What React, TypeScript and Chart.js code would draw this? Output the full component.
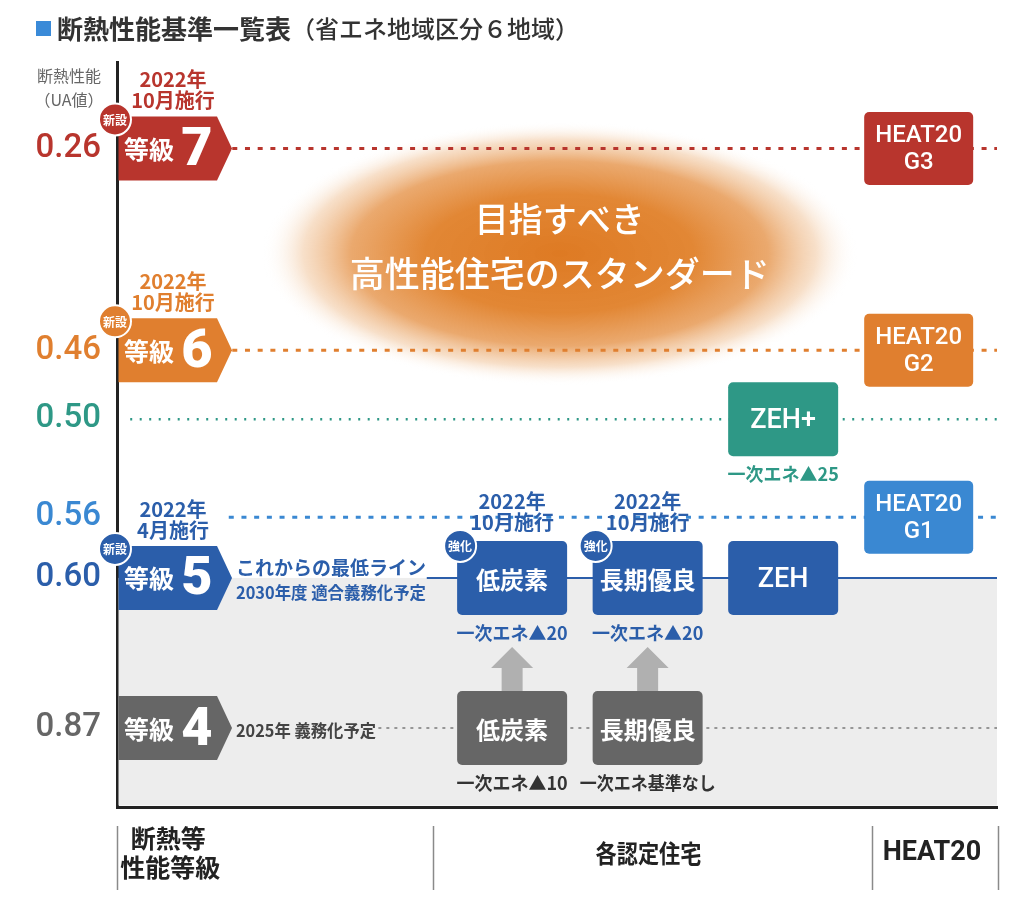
import React, { useEffect, useRef } from 'react';
import { Chart, registerables } from 'chart.js';

Chart.register(...registerables);

// ---------------- data ----------------
const uaLevels = [0.26, 0.46, 0.5, 0.56, 0.6, 0.87];
const uaColors = ['#b8352d', '#e07f2f', '#2e9886', '#3a88d2', '#2b5eaa', '#666666'];

const gradeNames = ['7', '6', '5', '4'];
const gradeUA = [0.26, 0.46, 0.6, 0.87];
const gradeBadge = ['新設', '新設', '新設', ''];
const gradeDateYear = ['2022年', '2022年', '2022年', ''];
const gradeDateMonth = ['10月施行', '10月施行', '4月施行', ''];
const gradeNote1 = ['', '', 'これからの最低ライン', '2025年 義務化予定'];
const gradeNote2 = ['', '', '2030年度 適合義務化予定', ''];

const certNames = ['低炭素', '長期優良', 'ZEH', 'ZEH+', '低炭素', '長期優良'];
const certColumn = [0, 1, 2, 2, 0, 1];
const certUA = [0.6, 0.6, 0.6, 0.5, 0.87, 0.87];
const certBadge = ['強化', '強化', '', '', '', ''];
const certDateYear = ['2022年', '2022年', '', '', '', ''];
const certDateMonth = ['10月施行', '10月施行', '', '', '', ''];
const certNotes = ['一次エネ▲20', '一次エネ▲20', '', '一次エネ▲25', '一次エネ▲10', '一次エネ基準なし'];
const certUpgrades = [[4, 0], [5, 1]]; // [from, to]

const heatNames = ['G3', 'G2', 'G1'];
const heatUA = [0.26, 0.46, 0.56];

const groupLabels = [['断熱等', '性能等級'], ['各認定住宅'], ['HEAT20']];
const titleMain = '断熱性能基準一覧表';
const titleSub = '（省エネ地域区分６地域）';
const yTitle = ['断熱性能', '（UA値）'];
const glowText = ['目指すべき', '高性能住宅のスタンダード'];

// ---------------- layout (schematic, not to scale) ----------------
const levelRows = [11.6, 38.7, 47.95, 61.1, 69.25, 89.4];
const levelLineStart = [13.1, 13.1, 1.5, 12.7, 35.2, 29.7];
const levelLineDash = [[5, 7.7], [5, 7.7], [2, 7.5], [5, 7.7], [], [3, 5]];
const levelLineWidth = [3, 3, 2.5, 3, 2, 1.5];
const levelLineColor = ['#b8352d', '#e07f2f', '#2e9886', '#3a88d2', '#2b5eaa', '#7a7a7a'];
const certColX = [44.9, 60.3, 75.7];
const heatColX = 91.1;
const groupDividers = [0, 35.9, 85.8, 100.1];
const groupLabelX = [5.7, 60.4, 92.6];
const glowCenter = { x: 50.3, y: 25.7 };

const JP = '"Noto Sans CJK JP", "Noto Sans", sans-serif';
const NUM = 'Roboto, "Noto Sans", sans-serif';

const rowOf = (ua: number) => levelRows[uaLevels.indexOf(ua)];
const colorOf = (ua: number) => uaColors[uaLevels.indexOf(ua)];

function rr(ctx: any, x: number, y: number, w: number, h: number, r: number) {
  ctx.beginPath();
  ctx.moveTo(x + r, y);
  ctx.arcTo(x + w, y, x + w, y + h, r);
  ctx.arcTo(x + w, y + h, x, y + h, r);
  ctx.arcTo(x, y + h, x, y, r);
  ctx.arcTo(x, y, x + w, y, r);
  ctx.closePath();
}

function txt(ctx: any, s: string, x: number, y: number, font: string, color: string, align = 'center', maxW?: number) {
  ctx.save();
  ctx.font = font;
  ctx.fillStyle = color;
  ctx.textAlign = align;
  ctx.textBaseline = 'middle';
  if (maxW) ctx.fillText(s, x, y, maxW);
  else ctx.fillText(s, x, y);
  ctx.restore();
}

function badge(ctx: any, cx: number, cy: number, color: string, label: string) {
  ctx.save();
  ctx.beginPath();
  ctx.arc(cx, cy, 16, 0, Math.PI * 2);
  ctx.fillStyle = color;
  ctx.fill();
  ctx.lineWidth = 2;
  ctx.strokeStyle = '#ffffff';
  ctx.stroke();
  ctx.restore();
  txt(ctx, label, cx, cy + 1, `bold 12px ${JP}`, '#ffffff', 'center', 26);
}

const backgroundPlugin = {
  id: 'bg',
  beforeDatasetsDraw(chart: any) {
    const { ctx, chartArea, scales } = chart;
    const y60 = scales.y.getPixelForValue(rowOf(0.6));
    ctx.save();
    ctx.fillStyle = '#ededed';
    ctx.fillRect(chartArea.left + 1.5, y60, chartArea.right - chartArea.left - 1.5, chartArea.bottom - 1.5 - y60);
    // glow
    const cx = scales.x.getPixelForValue(glowCenter.x);
    const cy = scales.y.getPixelForValue(glowCenter.y);
    const rx = 298, ry = 132;
    ctx.translate(cx, cy);
    ctx.scale(rx / ry, 1);
    const g = ctx.createRadialGradient(0, 0, 0, 0, 0, ry);
    g.addColorStop(0, 'rgba(222,122,35,1)');
    g.addColorStop(0.45, 'rgba(225,131,46,0.97)');
    g.addColorStop(0.7, 'rgba(230,150,78,0.82)');
    g.addColorStop(0.86, 'rgba(238,185,135,0.45)');
    g.addColorStop(1, 'rgba(255,255,255,0)');
    ctx.fillStyle = g;
    ctx.beginPath();
    ctx.arc(0, 0, ry, 0, Math.PI * 2);
    ctx.fill();
    ctx.restore();
    txt(ctx, glowText[0], cx, cy - 34, `500 34px ${JP}`, '#ffffff');
    txt(ctx, glowText[1], cx, cy + 20, `500 35px ${JP}`, '#ffffff');
  },
};

const overlayPlugin = {
  id: 'overlay',
  afterDatasetsDraw(chart: any) {
    const { ctx, chartArea, scales } = chart;
    const xs = scales.x, ys = scales.y;
    const xL = chartArea.left;

    // grade pentagons
    gradeNames.forEach((g, i) => {
      const cy = ys.getPixelForValue(rowOf(gradeUA[i]));
      const col = colorOf(gradeUA[i]);
      const top = cy - 32, bot = cy + 32;
      ctx.save();
      ctx.beginPath();
      ctx.moveTo(xL + 1.5, top);
      ctx.lineTo(xL + 100, top);
      ctx.lineTo(xL + 115, cy);
      ctx.lineTo(xL + 100, bot);
      ctx.lineTo(xL + 1.5, bot);
      ctx.closePath();
      ctx.fillStyle = col;
      ctx.fill();
      ctx.restore();
      txt(ctx, '等級', xL + 7, cy + 1, `bold 25px ${JP}`, '#ffffff', 'left');
      txt(ctx, g, xL + 80, cy + 3, `900 54px ${NUM}`, '#ffffff');
      if (gradeBadge[i]) badge(ctx, xL - 2, top + 3, col, gradeBadge[i]);
      if (gradeDateYear[i]) {
        txt(ctx, gradeDateYear[i], xL + 56, top - 37, `bold 20px ${JP}`, col);
        txt(ctx, gradeDateMonth[i], xL + 56, top - 16, `bold 20px ${JP}`, col);
      }
      const noteCol = gradeUA[i] === 0.87 ? '#444444' : col;
      if (gradeNote1[i] && gradeNote2[i]) {
        txt(ctx, gradeNote1[i], xL + 119, cy - 10, `bold 19px ${JP}`, noteCol, 'left', 190);
        txt(ctx, gradeNote2[i], xL + 119, cy + 15, `bold 17px ${JP}`, noteCol, 'left', 190);
      } else if (gradeNote1[i]) {
        txt(ctx, gradeNote1[i], xL + 119, cy + 3, `bold 17px ${JP}`, noteCol, 'left', 140);
      }
    });

    // upgrade arrows
    certUpgrades.forEach(([from, to]) => {
      const cx = xs.getPixelForValue(certColX[certColumn[from]]);
      const yFrom = ys.getPixelForValue(rowOf(certUA[from])) - 37;
      const yTo = ys.getPixelForValue(rowOf(certUA[to])) + 69;
      ctx.save();
      ctx.fillStyle = '#b0b0b0';
      ctx.beginPath();
      ctx.moveTo(cx, yTo);
      ctx.lineTo(cx + 21, yTo + 21);
      ctx.lineTo(cx + 10.5, yTo + 21);
      ctx.lineTo(cx + 10.5, yFrom);
      ctx.lineTo(cx - 10.5, yFrom);
      ctx.lineTo(cx - 10.5, yTo + 21);
      ctx.lineTo(cx - 21, yTo + 21);
      ctx.closePath();
      ctx.fill();
      ctx.restore();
    });

    // certified boxes
    certNames.forEach((name, i) => {
      const cx = xs.getPixelForValue(certColX[certColumn[i]]);
      const cy = ys.getPixelForValue(rowOf(certUA[i]));
      const col = colorOf(certUA[i]);
      const w = 110, h = 74;
      const top = cy - h / 2, left = cx - w / 2;
      ctx.save();
      rr(ctx, left, top, w, h, 5);
      ctx.fillStyle = col;
      ctx.fill();
      ctx.restore();
      const isLatin = /^[A-Z+]+$/.test(name);
      txt(ctx, name, cx, cy + 2, isLatin ? `500 27px ${NUM}` : `bold 24px ${JP}`, '#ffffff');
      if (certBadge[i]) badge(ctx, left + 3, top + 5, col, certBadge[i]);
      if (certDateYear[i]) {
        txt(ctx, certDateYear[i], cx, top - 40, `bold 20px ${JP}`, col);
        txt(ctx, certDateMonth[i], cx, top - 19, `bold 20px ${JP}`, col);
      }
      if (certNotes[i]) {
        const nc = certUA[i] === 0.87 ? '#333333' : col;
        txt(ctx, certNotes[i], cx, top + h + 18, `bold 18px ${JP}`, nc, 'center', 136);
      }
    });

    // HEAT20 boxes
    heatNames.forEach((name, i) => {
      const cx = xs.getPixelForValue(heatColX);
      const cy = ys.getPixelForValue(rowOf(heatUA[i]));
      const col = colorOf(heatUA[i]);
      const w = 109, h = 73;
      ctx.save();
      rr(ctx, cx - w / 2, cy - h / 2, w, h, 5);
      ctx.fillStyle = col;
      ctx.fill();
      ctx.restore();
      txt(ctx, 'HEAT20', cx, cy - 12, `500 24px ${NUM}`, '#ffffff');
      txt(ctx, name, cx, cy + 15, `500 24px ${NUM}`, '#ffffff');
    });
  },
  afterDraw(chart: any) {
    const { ctx, chartArea, scales } = chart;
    const xs = scales.x;
    // title
    ctx.save();
    ctx.fillStyle = '#3a8ad8';
    ctx.fillRect(36, 21, 15, 15);
    ctx.restore();
    ctx.save();
    ctx.font = `bold 26px ${JP}`;
    const wMain = ctx.measureText(titleMain).width;
    ctx.restore();
    txt(ctx, titleMain, 57, 29, `bold 26px ${JP}`, '#333333', 'left');
    txt(ctx, titleSub, 57 + wMain, 29, `500 24px ${JP}`, '#333333', 'left', 292);
    // y axis title
    txt(ctx, yTitle[0], 69, 76, `16px ${JP}`, '#666666');
    txt(ctx, yTitle[1], 69, 100, `16px ${JP}`, '#666666');
    // group dividers & labels
    const yTop = chartArea.bottom + 19, yBot = chartArea.bottom + 83;
    ctx.save();
    ctx.strokeStyle = '#8a8a8a';
    ctx.lineWidth = 1.5;
    groupDividers.forEach((d) => {
      const x = Math.round(xs.getPixelForValue(d)) + 0.5;
      ctx.beginPath();
      ctx.moveTo(x, yTop);
      ctx.lineTo(x, yBot);
      ctx.stroke();
    });
    ctx.restore();
    groupLabels.forEach((lines, i) => {
      const x = xs.getPixelForValue(groupLabelX[i]);
      if (lines.length === 2) {
        txt(ctx, lines[0], x + 1, chartArea.bottom + 31, `bold 25px ${JP}`, '#222222');
        txt(ctx, lines[1], x + 3, chartArea.bottom + 60, `bold 25px ${JP}`, '#222222');
      } else {
        const latin = /^[A-Z0-9]+$/.test(lines[0]);
        txt(ctx, lines[0], x, chartArea.bottom + 46, latin ? `bold 27px ${NUM}` : `bold 25px ${JP}`, '#222222', 'center', 106);
      }
    });
  },
};

const datasets = uaLevels.map((ua, i) => ({
  label: ua.toFixed(2),
  data: [
    { x: levelLineStart[i], y: levelRows[i] },
    { x: 100, y: levelRows[i] },
  ],
  borderColor: levelLineColor[i],
  borderWidth: levelLineWidth[i],
  borderDash: levelLineDash[i],
  pointRadius: 0,
  fill: false,
  tension: 0,
}));

export default function App() {
  const ref = useRef<HTMLCanvasElement>(null);
  useEffect(() => {
    const chart = new Chart(ref.current as HTMLCanvasElement, {
      type: 'line',
      data: { datasets } as any,
      options: {
        responsive: false,
        animation: false,
        devicePixelRatio: 1,
        layout: { padding: { top: 62, right: 27, left: 0, bottom: 0 } },
        plugins: {
          legend: { display: false },
          tooltip: { enabled: false },
          title: { display: false },
        },
        scales: {
          x: {
            type: 'linear',
            min: 0,
            max: 100,
            grid: { display: false, drawTicks: false },
            ticks: { display: false },
            border: { display: true, color: '#222222', width: 3 },
            afterFit: (s: any) => {
              s.height = 111;
            },
          },
          y: {
            type: 'linear',
            reverse: true,
            min: 0,
            max: 100,
            grid: { display: false, drawTicks: false },
            border: { display: true, color: '#222222', width: 3 },
            afterBuildTicks: (s: any) => {
              s.ticks = levelRows.map((v) => ({ value: v }));
            },
            ticks: {
              autoSkip: false,
              padding: 16,
              callback: (_v: any, i: number) => uaLevels[i].toFixed(2),
              color: (c: any) => uaColors[c.index],
              font: { size: 33, family: 'Roboto', weight: '500' },
            },
            afterFit: (s: any) => {
              s.width = 117;
            },
          },
        } as any,
      },
      plugins: [backgroundPlugin, overlayPlugin],
    });
    return () => chart.destroy();
  }, []);
  return (
    <div style={{ position: 'absolute', left: 0, top: 0, width: 1024, height: 918, background: '#ffffff' }}>
      <canvas ref={ref} width={1024} height={918} style={{ display: 'block', width: 1024, height: 918 }} />
    </div>
  );
}
